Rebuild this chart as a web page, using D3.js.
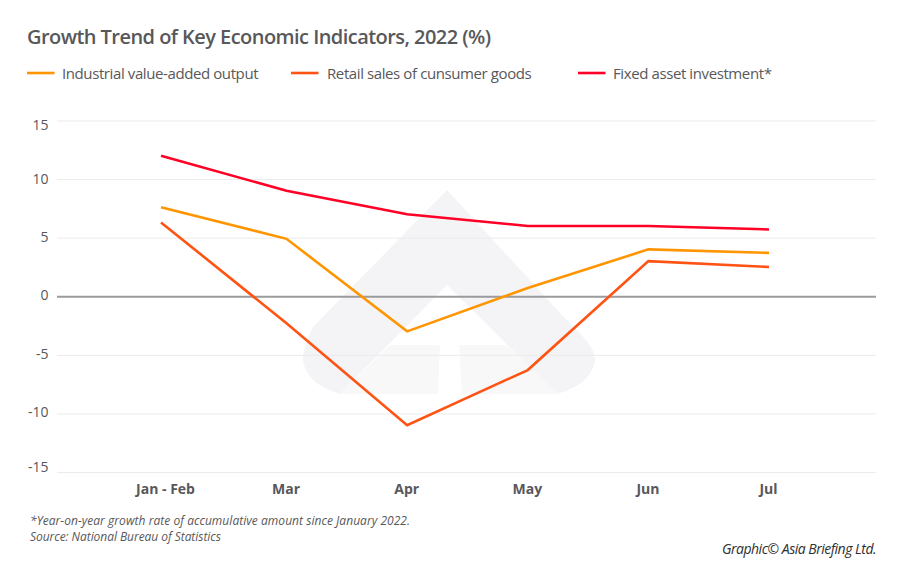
<!DOCTYPE html>
<html>
<head>
<meta charset="utf-8">
<script src="https://cdn.jsdelivr.net/npm/d3@7"></script>
<style>
  html, body { margin: 0; padding: 0; background: #fff; }
  text { font-family: "Open Sans", "Noto Sans", sans-serif; fill: #58585a; }
</style>
</head>
<body>
<div id="chart"></div>
<script>
const categories = ['Jan - Feb', 'Mar', 'Apr', 'May', 'Jun', 'Jul'];
const industrial = [7.6, 4.9, -3.0, 0.7, 4.0, 3.7];
const retail = [6.3, -2.3, -11.0, -6.3, 3.0, 2.5];
const investment = [12.0, 9.0, 7.0, 6.0, 6.0, 5.7];
const yTicks = [15, 10, 5, 0, -5, -10, -15];
const seriesNames = ['Industrial value-added output', 'Retail sales of cunsumer goods', 'Fixed asset investment*'];

const width = 900, height = 585;

const svg = d3.select('#chart').append('svg')
    .attr('width', width)
    .attr('height', height)
    .style('display', 'block');

// first step is a little wider than the others in the original
const x = d3.scaleLinear().domain([0, 1, 5]).range([161, 286.5, 769]);
const xLabel = d3.scalePoint().domain(categories).range([165, 768]);
const y = d3.scaleLinear().domain([-15, 15]).range([472, 120.5]);
// the tick labels do not sit exactly on their grid lines in the original
const yLabel = d3.scaleLinear().domain([-15, -10, 10, 15]).range([467, 412, 179, 125]);

// watermark logo behind the plot
const logo = svg.append('g');
logo.append('path')
    .attr('fill', '#f4f4f6')
    .attr('d', 'M447,190 L573,327 Q595,346 595,360 Q592,384 557,394 L447,285 L340,394 Q306,384 303,360 Q303,346 313,327 Z');
logo.append('path')
    .attr('fill', '#f8f8f9')
    .attr('d', 'M390,345 L440,345 L438,394 L340,394 Z M459,345 L507,345 L557,394 L462,394 Z');

// grid
const grid = svg.append('g')
    .attr('transform', 'translate(57,0)')
    .call(d3.axisLeft(y).tickValues(yTicks).tickSize(-819).tickFormat(''));
grid.select('.domain').remove();
grid.selectAll('.tick line')
    .attr('stroke', d => d === 0 ? '#9b9b9d' : '#ebebec')
    .attr('stroke-width', d => d === 0 ? 2 : 1);

// y labels
const yAxis = svg.append('g')
    .attr('transform', 'translate(48.5,0)')
    .call(d3.axisLeft(yLabel).tickValues(yTicks).tickSize(0).tickPadding(0).tickFormat(d => d));
yAxis.select('.domain').remove();
yAxis.selectAll('text')
    .attr('font-size', 14)
    .style('font-family', '"Open Sans", sans-serif')
    .style('fill', '#58585a');

// x labels
const xAxis = svg.append('g')
    .attr('transform', 'translate(0,484)')
    .call(d3.axisBottom(xLabel).tickSize(0).tickPadding(0));
xAxis.select('.domain').remove();
xAxis.selectAll('text')
    .attr('font-size', 14)
    .attr('font-weight', 700)
    .style('font-family', '"Open Sans", sans-serif')
    .style('fill', '#58585a');

// lines
const line = d3.line()
    .x((d, i) => x(i))
    .y(d => y(d));

const colors = ['#ff9500', '#ff5314', '#ff0026'];
[industrial, retail, investment].forEach((values, i) => {
    svg.append('path')
        .datum(values)
        .attr('fill', 'none')
        .attr('stroke', colors[i])
        .attr('stroke-width', 2.6)
        .attr('d', line);
});

// title
svg.append('text')
    .attr('x', 27)
    .attr('y', 44)
    .attr('font-size', 20)
    .attr('font-weight', 600)
    .attr('letter-spacing', -0.55)
    .text('Growth Trend of Key Economic Indicators, 2022 (%)');

// legend
const legendLeft = [27, 291, 578];
const legend = svg.selectAll('.legend').data(seriesNames).enter().append('g')
    .attr('class', 'legend')
    .attr('transform', (d, i) => `translate(${legendLeft[i]},73)`);
legend.append('line')
    .attr('x2', 27.5)
    .attr('stroke', (d, i) => colors[i])
    .attr('stroke-width', 2.6);
legend.append('text')
    .attr('x', (d, i) => i === 1 ? 36 : 35)
    .attr('y', 5.5)
    .attr('font-size', 15)
    .attr('letter-spacing', -0.4)
    .text(d => d);

// notes
const note = svg.append('g').attr('font-size', 12).attr('font-style', 'italic');
note.append('text').attr('x', 30).attr('y', 525)
    .attr('letter-spacing', 0.04)
    .text('*Year-on-year growth rate of accumulative amount since January 2022.');
note.append('text').attr('x', 30).attr('y', 541)
    .attr('letter-spacing', -0.05)
    .text('Source: National Bureau of Statistics');

svg.append('text')
    .attr('x', 876)
    .attr('y', 554)
    .attr('text-anchor', 'end')
    .attr('font-size', 14)
    .attr('font-style', 'italic')
    .attr('letter-spacing', -0.5)
    .style('fill', '#2f2f31')
    .text('Graphic© Asia Briefing Ltd.');
</script>
</body>
</html>
